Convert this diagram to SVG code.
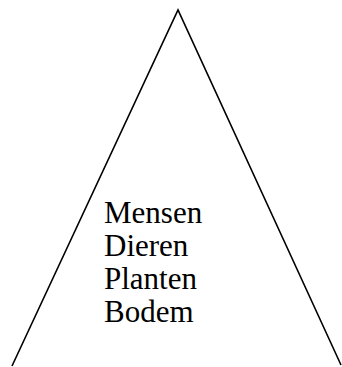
<svg xmlns="http://www.w3.org/2000/svg" width="342" height="367" viewBox="0 0 342 367">
<style>
.edge{fill:none;stroke:#000;stroke-width:1.6}
.lbl{font-family:"Liberation Serif","Times New Roman",serif;font-size:31px;fill:#000}
</style>
<rect width="342" height="367" fill="#fff"/>
<g id="connectors">
<polyline class="edge" points="12,366 178,10 341,365"/>
</g>
<g id="labels">
<text class="lbl" x="104" y="223">Mensen</text>
<text class="lbl" x="104" y="256">Dieren</text>
<text class="lbl" x="104" y="289">Planten</text>
<text class="lbl" x="104" y="322">Bodem</text>
</g>
</svg>
